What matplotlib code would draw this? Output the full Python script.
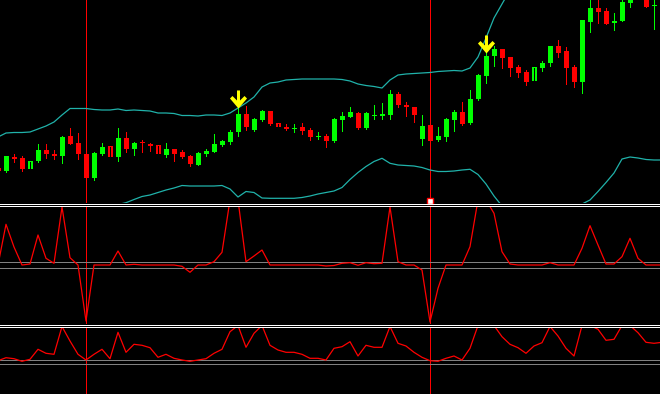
import numpy as np
import matplotlib
matplotlib.use("Agg")
import matplotlib.pyplot as plt
from matplotlib.lines import Line2D
from matplotlib.path import Path

# bar index of first candle (partly cut at left edge)
first_bar = -1

# candles
opens = [82.5, 79, 93, 92, 81, 89, 100, 96, 94, 114, 107, 96, 72, 96, 104, 93, 112, 101, 108, 106,
         105, 95, 101, 98, 94, 85, 96, 98, 105, 108, 118, 136, 120, 130, 139, 127, 123, 121, 123, 120,
         113, 114, 109, 130, 133, 137, 122, 134, 134, 135, 156, 145, 143, 111, 125, 110, 113, 130, 138, 127,
         151, 174, 194, 201, 193, 183, 178, 169, 182, 187, 204, 199, 183, 168, 228, 242, 239, 227, 229, 247,
         255, 256, 244, 245]
highs = [83, 94, 96, 94, 89, 106, 106, 100, 114, 122, 117, 97, 98, 107, 104, 122, 118, 108, 110, 107,
         105, 107, 101, 100, 95, 98, 101, 116, 110, 120, 143, 144, 132, 140, 139, 127, 126, 126, 127, 122,
         118, 116, 132, 138, 143, 138, 138, 145, 147, 160, 158, 148, 143, 135, 126, 123, 132, 140, 148, 160,
         176, 203, 204, 201, 193, 185, 180, 183, 189, 204, 210, 203, 185, 230, 252, 252, 242, 237, 253, 258,
         268, 258, 253, 250]
lows = [78.5, 78, 88, 79, 81, 88.5, 92, 91, 87, 106, 91, 71, 70, 95, 93, 89, 98, 95, 98, 99,
        96, 93, 89, 92, 84, 85, 94, 98, 104, 106, 114, 120, 119, 129, 125, 123, 120, 118, 116, 110,
        111, 103, 108, 119, 133, 121, 121, 131, 131, 131, 143, 134, 128, 105, 108, 109, 109, 119, 125, 126.5,
        150, 167, 184, 182, 174, 173, 165, 169, 179, 184, 193, 166, 163, 157, 218, 227, 226, 220, 228.5, 243,
        252, 243, 221, 238]
closes = [79, 94, 91, 81, 89, 100, 96, 94, 113, 106, 96, 72, 97, 103, 93, 112, 101, 107, 107, 104,
          96, 101, 96, 93, 86, 97, 99, 106, 109, 118, 136, 123, 131, 139, 126, 123, 121, 122, 119, 113,
          114, 109, 131, 134, 138, 122, 137, 135, 136, 156, 145, 143, 135, 124, 109, 114, 131, 138, 126, 151,
          175, 194, 201, 192, 182, 177, 168, 183, 187, 204, 197, 182, 168, 230, 242, 238, 226, 229, 248, 255,
          265, 243, 245, 240]

# bollinger bands
bb_upper = [113, 117, 117.5, 117.5, 118, 121, 124, 128, 135, 141.5, 141.5, 141.5, 140.5, 140, 140, 141, 139.5, 140, 139.5, 139,
            137, 137, 136.5, 134.5, 134.5, 134, 135, 135, 134.5, 137, 142, 147, 153, 163, 167, 168, 170, 170.5, 171, 171,
            171, 171, 171, 170.5, 169, 166, 164.5, 163.5, 162, 170, 175, 176, 176.5, 177, 177.5, 178.5, 179, 179.5, 179, 182,
            193, 212, 232, 246, 260, 272, 280, 285, 288, 290, 292, 292, 292, 292, 292, 292, 292, 292, 292, 292,
            292, 292, 292, 292]
bb_lower = [28, 29, 30, 31, 32, 33, 34, 35, 36, 37, 38, 39, 40, 42, 44, 45.5, 47.3, 50.5, 53.5, 55,
            57.5, 60, 62, 64.5, 64, 64, 64, 64, 64.5, 61, 53, 58.5, 57.5, 52, 51.7, 51.7, 51.7, 51.7, 52.5, 54,
            56, 57.5, 59, 62.5, 70.5, 77.5, 83.5, 88.5, 91.7, 86.7, 85, 84.5, 84, 82.5, 80, 78.5, 78.5, 79, 80, 80.7,
            75.5, 66, 54, 44, 38, 34, 32, 31, 31, 32, 33, 35, 40, 46, 50, 58.5, 67.5, 77, 91, 93,
            92, 90.5, 90, 90]

# signal arrows and marker
arrow_bars = [29, 60]
arrow_prices = [151, 206]
line_bars = [10, 53]
square_bar = 53
square_price = 49

# oscillator 1
osc1 = [0, 40.7, 18, 0, 1, 30, 6.7, 1.7, 58, 7.3, 0, -56, 0, 0, 0, 14, 0, 0.7, 0, 0,
        0, 0, 0, -1.3, -7.3, 0, 0, 3.3, 12.7, 65, 65, 3.3, 9, 15, 0, 0, 0, 0, 0, 0,
        0, -1, -0.5, 1.7, 2.3, -0.3, 2.3, 1.3, 1.7, 58, 3.3, 0, 0, -5, -57, -23.3, 0, 0, 0, 18.3,
        65, 65, 51.7, 13.3, 1, 0, 0, 0, 0, 2.3, 0, 0, 0, 16.7, 39.3, 20, 1, 1, 8.3, 26.7,
        6.7, 0, 0, 0]
osc1_levels = [3, -3]

# oscillator 2
osc2 = [2.8, 5.8, 4.8, 2.2, 4.2, 14.2, 10.2, 9.2, 37, 22.5, 9.2, 3.5, 9.2, 14.2, 4.8, 31.2, 11.2, 19.2, 18.2, 15.8,
        6.2, 9.2, 5.2, 3.5, 2.2, 3.5, 4.8, 10.2, 14.2, 31.8, 38, 16.2, 30.2, 38, 18.2, 13.5, 11.2, 11.2, 9.2, 5.2,
        5.2, 3.5, 15.2, 16.8, 21.8, 7.5, 18.2, 16.2, 16.2, 37, 20.2, 17.5, 11.2, 6.2, 2.8, 2.2, 5.2, 7.5, 3.5, 15.2,
        38, 38, 38, 26.8, 19.2, 15.8, 10.2, 17.5, 20.8, 37, 27.5, 15.2, 7.5, 38, 38, 34.2, 23.2, 24.2, 38, 38,
        30.8, 21.2, 20.2, 21.2]
osc2_levels = [4, 0]

W, H = 660, 394
fig = plt.figure(figsize=(W / 100, H / 100), dpi=100, facecolor="black")

def panel(top, bottom):
    ax = fig.add_axes([0, 1 - bottom / H, 1, (bottom - top) / H])
    ax.set_facecolor("black")
    ax.set_xlim(-0.75, 81.75)
    ax.set_xticks([])
    ax.set_yticks([])
    for s in ax.spines.values():
        s.set_visible(False)
    return ax

ax1 = panel(0, 203)
ax2 = panel(206.5, 323.5)
ax3 = panel(327, 394)
ax1.set_ylim(47, 250)
ax2.set_ylim(-58.5, 58.5)
ax3.set_ylim(-30.5, 36.5)

bars = np.arange(first_bar, first_bar + len(opens))
o, h, l, c = map(np.array, (opens, highs, lows, closes))
up = c >= o
colors = np.where(up, "#00ff00", "#ff0000")
lw = 0.9

# vertical red lines (crisp)
for ax in (ax1, ax2, ax3):
    for b in line_bars:
        ax.axvline(b, color="#ff0000", lw=0.7, zorder=1, antialiased=False)

# bollinger
ax1.plot(bars, bb_upper, color="#20b2aa", lw=lw, zorder=2)
ax1.plot(bars, bb_lower, color="#20b2aa", lw=lw, zorder=2)

# candles
ax1.vlines(bars, l, h, colors=colors, lw=0.7, zorder=3, antialiased=False)
ax1.bar(bars, np.maximum(np.abs(c - o), 0.8), bottom=np.minimum(o, c), width=0.625,
        color=colors, linewidth=0, zorder=4, antialiased=False)
no_wick = (h == np.maximum(o, c)) & (l == np.minimum(o, c))
ax1.vlines(bars[no_wick], np.minimum(o, c)[no_wick] + 0.5, np.maximum(o, c)[no_wick] - 0.5,
           colors="black", lw=0.7, zorder=5, antialiased=False)

# yellow arrows
arrow = Path([(-1.5, 9), (1.5, 9), (1.5, -1), (6, 3.5), (8.5, 1), (0, -9),
              (-8.5, 1), (-6, 3.5), (-1.5, -1), (-1.5, 9)],
             [Path.MOVETO] + [Path.LINETO] * 8 + [Path.CLOSEPOLY])
ax1.plot(arrow_bars, arrow_prices, linestyle="none", marker=arrow, markersize=13,
         color="#ffff00", markeredgewidth=0, zorder=6)

ax1.plot([square_bar], [square_price], marker="s", markersize=4, markerfacecolor="white",
         markeredgecolor="#ff0000", markeredgewidth=1, zorder=6, clip_on=False)

# oscillators
for lev in osc1_levels:
    ax2.axhline(lev, color="#808080", lw=0.7, zorder=1, antialiased=False)
ax2.plot(bars, osc1, color="#ff0000", lw=lw, zorder=2)
for lev in osc2_levels:
    ax3.axhline(lev, color="#808080", lw=0.7, zorder=1, antialiased=False)
ax3.plot(bars, osc2, color="#ff0000", lw=lw, zorder=2)

# panel separators
for y in (203.5, 205.5, 324.5, 326.5):
    fig.add_artist(Line2D([0, 1], [1 - y / H, 1 - y / H], color="white", lw=0.7,
                          transform=fig.transFigure, antialiased=False))

fig.savefig("out.png", dpi=100, facecolor="black")
